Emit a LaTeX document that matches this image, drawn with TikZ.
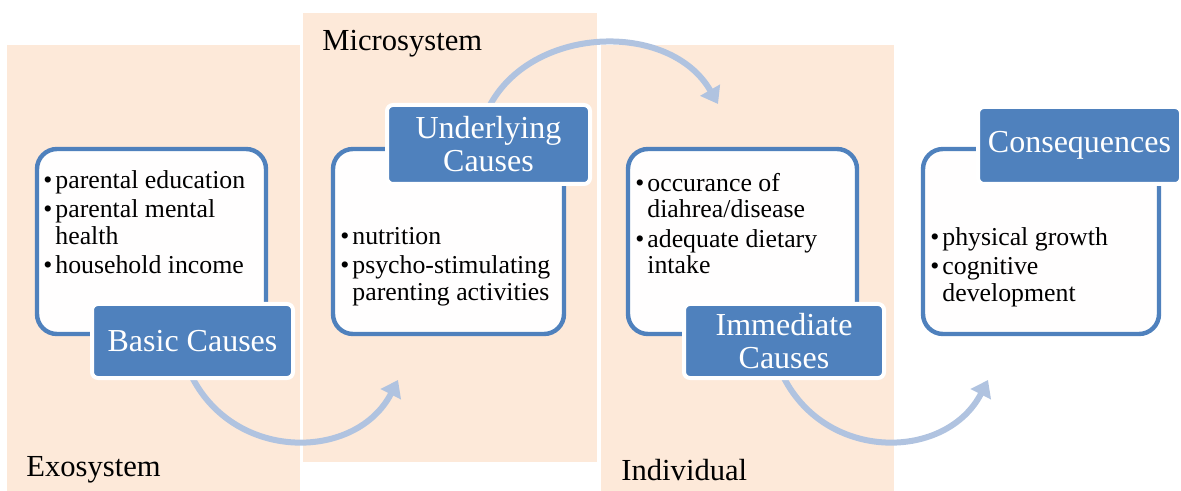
\documentclass[tikz,border=0pt]{standalone}
\usepackage{fontspec}
\setmainfont{Liberation Serif}
\usetikzlibrary{arrows.meta}
\definecolor{zonepeach}{HTML}{FDE9D9}
\definecolor{boxblue}{HTML}{4F81BD}
\definecolor{arrowblue}{HTML}{B0C3E0}
\newcommand{\bul}{\makebox[6pt][l]{\textbullet}}
\newcommand{\cont}{\hspace*{6pt}}
\begin{document}
\begin{tikzpicture}
[x=0.5pt,y=-0.5pt,
  zonefill/.style={fill=zonepeach},%
  zonelabel/.style={anchor=west,inner sep=0pt,font=\fontsize{15.3}{17}\selectfont},%
  listbox/.style={shape=rectangle,rounded corners=10pt,draw=boxblue,line width=2.2pt,
    fill=white!97!zonepeach,minimum height=92.5pt},%
  listtext/.style={anchor=north west,inner sep=0pt,align=left,
    font=\fontsize{12.9}{13.2}\selectfont},%
  titlebox/.style={shape=rectangle,rounded corners=3pt,draw=white,line width=2pt,
    fill=boxblue,text=white,align=center,inner sep=0pt,
    font=\fontsize{16}{16.5}\selectfont},%
  arrowdecorate/.style={draw=arrowblue,line width=3pt,-{Triangle[width=11pt,length=8pt]}}]
\useasboundingbox (0,0) rectangle (1181,491);
%% system zones
\foreach \zonename/\xa/\ya/\xb/\yb in {exo/7/45/300/491, micro/303/13/597/462, indiv/601/45/894/491} {
  \fill[zonefill] (\xa,\ya) rectangle (\xb,\yb);
}
\node (exolabel) at (26,470) [zonelabel] {Exosystem};
\node (microlabel) at (322,44) [zonelabel] {Microsystem};
\node (indivlabel) at (621,470) [zonelabel] {Individual};
%% list boxes
\foreach \nodename/\x/\w in {basicbox/151.5/114.5, underbox/448.5/115.5, immbox/742.5/114.5, consbox/1041/118} {
  \node (\nodename) at (\x,241.5) [listbox,minimum width=\w pt] {};
}
\node (basiclist) at (43,170) [listtext]
  {\bul parental education\\[1.5pt]\bul parental mental\\\cont health\\[1.5pt]\bul household income};
\node (underlist) at (340,227) [listtext]
  {\bul nutrition\\[1.5pt]\bul psycho-stimulating\\\cont parenting activities};
\node (immlist) at (635,173) [listtext]
  {\bul occurance of\\\cont diahrea/disease\\[1.5pt]\bul adequate dietary\\\cont intake};
\node (conslist) at (930,227) [listtext]
  {\bul physical growth\\[1.5pt]\bul cognitive\\\cont development};
%% arrows between causes
\coordinate (underin) at (398,380);
\coordinate (immin) at (718,104);
\coordinate (consin) at (988,380);
\draw[arrowdecorate] (192.5,378) .. controls (237,463) and (357,460) .. (underin);
\draw[arrowdecorate] (488.5,108) .. controls (530,25) and (670,20) .. (immin);
\draw[arrowdecorate] (784,378) .. controls (828,463) and (947,460) .. (consin);
%% title boxes
\node (basictitle) at (192.5,341) [titlebox,minimum width=100.5pt,minimum height=37pt] {Basic Causes};
\node (undertitle) at (488.5,144.5) [titlebox,minimum width=101.5pt,minimum height=39.5pt] {Underlying\\Causes};
\node (immtitle) at (784,341) [titlebox,minimum width=100pt,minimum height=37pt] {Immediate\\Causes};
\node (constitle) at (1079.5,145.5) [titlebox,minimum width=101.5pt,minimum height=38.5pt] {Consequences};
\end{tikzpicture}
\end{document}
